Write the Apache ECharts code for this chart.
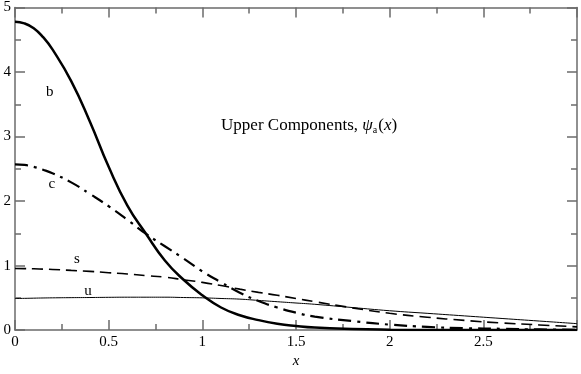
<!DOCTYPE html>
<html>
<head>
<meta charset="utf-8">
<script src="https://cdn.jsdelivr.net/npm/echarts@6/dist/echarts.min.js"></script>
<style>
  html, body { margin: 0; padding: 0; background: #fff; }
  #chart { width: 581px; height: 374px; }
</style>
</head>
<body>
<div id="chart"></div>
<script>
// x grid shared by all curves
const xs = [0, 0.05, 0.1, 0.15, 0.2, 0.3, 0.4, 0.5, 0.6, 0.7, 0.8, 0.9, 1.0, 1.1, 1.2, 1.3, 1.4, 1.5, 1.6,
            1.8, 2.0, 2.2, 2.4, 2.6, 2.8, 3.0];
const bVals = [4.78, 4.755, 4.68, 4.54, 4.35, 3.86, 3.23, 2.53, 1.93, 1.49, 1.08, 0.78, 0.54, 0.35, 0.23, 0.155, 0.10, 0.065, 0.04,
               0.017, 0.006, 0.002, 0, 0, 0, 0];
const cVals = [2.57, 2.56, 2.53, 2.485, 2.43, 2.29, 2.11, 1.92, 1.71, 1.49, 1.30, 1.11, 0.91, 0.74, 0.58, 0.45, 0.35, 0.27, 0.21,
               0.14, 0.085, 0.05, 0.03, 0.02, 0.01, 0.005];
const sVals = [0.955, 0.953, 0.95, 0.945, 0.94, 0.925, 0.91, 0.89, 0.87, 0.845, 0.82, 0.78, 0.74, 0.69, 0.635, 0.585, 0.54, 0.49, 0.44,
               0.345, 0.26, 0.20, 0.15, 0.11, 0.08, 0.05];
const uVals = [0.49, 0.492, 0.495, 0.498, 0.50, 0.503, 0.505, 0.508, 0.51, 0.51, 0.51, 0.505, 0.50, 0.49, 0.48, 0.46, 0.44, 0.42, 0.40,
               0.35, 0.30, 0.26, 0.22, 0.18, 0.14, 0.10];
// curve labels (data coords)
const curveLabels = [
  { name: 'b', x: 0.186, y: 3.69 },
  { name: 'c', x: 0.197, y: 2.26 },
  { name: 's', x: 0.33, y: 1.10 },
  { name: 'u', x: 0.39, y: 0.61 }
];
const xTicks = [0, 0.5, 1, 1.5, 2, 2.5];
const yTicks = [0, 1, 2, 3, 4, 5];

const FONT = '"Liberation Serif", "DejaVu Serif", serif';
const AXIS_COLOR = '#6b6b6b';

function pairs(vals) {
  return xs.map((x, i) => [x, vals[i]]);
}

function curveLabel(name) {
  const l = curveLabels.find(c => c.name === name);
  return {
    silent: true,
    symbol: 'circle',
    symbolSize: 0,
    data: [{ coord: [l.x, l.y] }],
    label: {
      show: true, position: 'inside', formatter: name,
      color: '#000', fontFamily: FONT, fontSize: 15
    }
  };
}

const chart = echarts.init(document.getElementById('chart'), null, { renderer: 'canvas' });

const baseX = {
  type: 'value', min: 0, max: 3, interval: 0.5,
  axisLine: { show: true, onZero: false, lineStyle: { color: AXIS_COLOR, width: 1.5 } },
  axisTick: { show: true, inside: true, length: 10, lineStyle: { color: AXIS_COLOR, width: 1.5 } },
  minorTick: { show: true, splitNumber: 2, length: 6, lineStyle: { color: AXIS_COLOR, width: 1.5 } },
  splitLine: { show: false }
};
const baseY = {
  type: 'value', min: 0, max: 5, interval: 1,
  axisLine: { show: true, onZero: false, lineStyle: { color: AXIS_COLOR, width: 1.5 } },
  axisTick: { show: true, inside: true, length: 10, lineStyle: { color: AXIS_COLOR, width: 1.5 } },
  minorTick: { show: true, splitNumber: 2, length: 6, lineStyle: { color: AXIS_COLOR, width: 1.5 } },
  splitLine: { show: false }
};

const lineBase = { type: 'line', smooth: 0.5, showSymbol: false };

const option = {
  backgroundColor: '#fff',
  animation: false,
  grid: { left: 15, right: 4, top: 5, bottom: 27, containLabel: false },
  xAxis: [
    Object.assign({}, baseX, {
      position: 'bottom',
      name: 'x', nameLocation: 'middle', nameGap: 14,
      nameTextStyle: { fontFamily: FONT, fontStyle: 'italic', fontSize: 15, color: '#000' },
      axisLabel: {
        show: true, margin: 4, color: '#000', fontFamily: FONT, fontSize: 15,
        showMaxLabel: false,
        formatter: v => (xTicks.indexOf(v) >= 0 ? String(v) : '')
      }
    }),
    Object.assign({}, baseX, { position: 'top', axisLabel: { show: false } })
  ],
  yAxis: [
    Object.assign({}, baseY, {
      position: 'left',
      axisLabel: {
        show: true, margin: 4, color: '#000', fontFamily: FONT, fontSize: 15,
        formatter: v => (yTicks.indexOf(v) >= 0 ? String(v) : '')
      }
    }),
    Object.assign({}, baseY, { position: 'right', axisLabel: { show: false } })
  ],
  series: [
    Object.assign({}, lineBase, {
      name: 'b', data: pairs(bVals),
      lineStyle: { color: '#000', width: 2.5 },
      markPoint: curveLabel('b')
    }),
    Object.assign({}, lineBase, {
      name: 'c', data: pairs(cVals),
      lineStyle: { color: '#000', width: 2.2, type: [13, 6, 3, 6] },
      markPoint: curveLabel('c')
    }),
    Object.assign({}, lineBase, {
      name: 's', data: pairs(sVals),
      lineStyle: { color: '#000', width: 1.6, type: [11, 6] },
      markPoint: curveLabel('s')
    }),
    Object.assign({}, lineBase, {
      name: 'u', data: pairs(uVals),
      lineStyle: { color: '#000', width: 1 },
      markPoint: curveLabel('u')
    })
  ]
};
chart.setOption(option);

// annotation anchored in data coordinates
const anchor = chart.convertToPixel({ xAxisIndex: 0, yAxisIndex: 0 }, [1.10, 3.17]);
chart.setOption({
  graphic: [{
    type: 'text', x: anchor[0], y: anchor[1], silent: true,
    style: {
      text: '{n|Upper Components, }{i|ψ}{sub|a}{n|(}{i|x}{n|)}',
      verticalAlign: 'middle',
      fill: '#000',
      rich: {
        n: { fontFamily: FONT, fontSize: 17, fill: '#000', lineHeight: 20 },
        i: { fontFamily: FONT, fontSize: 17, fontStyle: 'italic', fill: '#000', lineHeight: 20 },
        sub: { fontFamily: FONT, fontSize: 10, fill: '#000', lineHeight: 20, padding: [9, 1, 0, 0] }
      }
    }
  }]
});
</script>
</body>
</html>
